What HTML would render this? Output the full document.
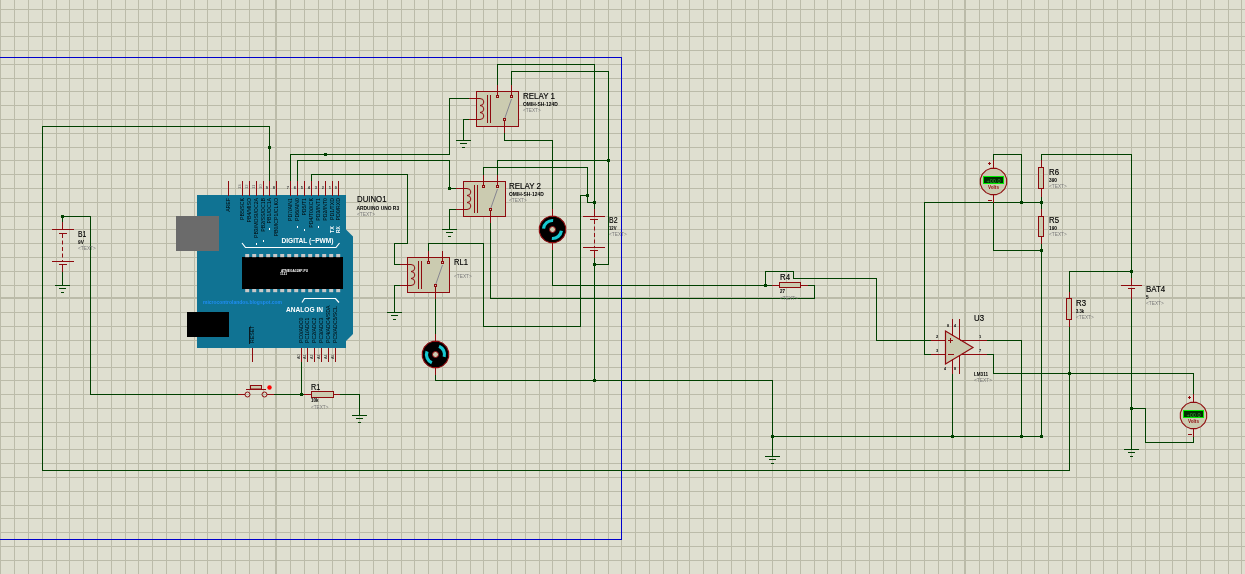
<!DOCTYPE html>
<html><head><meta charset="utf-8"><style>
html,body{margin:0;padding:0;background:#dfdfd0;}
svg{display:block;font-family:"Liberation Sans",sans-serif;will-change:transform;}
</style></head><body>
<svg width="1245" height="574" viewBox="0 0 1245 574">
<rect width="1245" height="574" fill="#dfdfd0"/>
<g fill="#bbbba9"><rect x="0" y="0" width="1" height="574"/><rect x="14" y="0" width="1" height="574"/><rect x="28" y="0" width="1" height="574"/><rect x="42" y="0" width="1" height="574"/><rect x="56" y="0" width="1" height="574"/><rect x="69" y="0" width="1" height="574"/><rect x="83" y="0" width="1" height="574"/><rect x="97" y="0" width="1" height="574"/><rect x="111" y="0" width="1" height="574"/><rect x="125" y="0" width="1" height="574"/><rect x="138" y="0" width="1" height="574"/><rect x="152" y="0" width="1" height="574"/><rect x="166" y="0" width="1" height="574"/><rect x="180" y="0" width="1" height="574"/><rect x="194" y="0" width="1" height="574"/><rect x="207" y="0" width="1" height="574"/><rect x="221" y="0" width="1" height="574"/><rect x="235" y="0" width="1" height="574"/><rect x="249" y="0" width="1" height="574"/><rect x="263" y="0" width="1" height="574"/><rect x="275" y="0" width="2" height="574"/><rect x="290" y="0" width="1" height="574"/><rect x="304" y="0" width="1" height="574"/><rect x="318" y="0" width="1" height="574"/><rect x="332" y="0" width="1" height="574"/><rect x="345" y="0" width="1" height="574"/><rect x="359" y="0" width="1" height="574"/><rect x="373" y="0" width="1" height="574"/><rect x="387" y="0" width="1" height="574"/><rect x="401" y="0" width="1" height="574"/><rect x="414" y="0" width="1" height="574"/><rect x="428" y="0" width="1" height="574"/><rect x="442" y="0" width="1" height="574"/><rect x="456" y="0" width="1" height="574"/><rect x="470" y="0" width="1" height="574"/><rect x="483" y="0" width="1" height="574"/><rect x="497" y="0" width="1" height="574"/><rect x="511" y="0" width="1" height="574"/><rect x="525" y="0" width="1" height="574"/><rect x="539" y="0" width="1" height="574"/><rect x="552" y="0" width="1" height="574"/><rect x="566" y="0" width="1" height="574"/><rect x="580" y="0" width="1" height="574"/><rect x="594" y="0" width="1" height="574"/><rect x="608" y="0" width="1" height="574"/><rect x="621" y="0" width="1" height="574"/><rect x="635" y="0" width="1" height="574"/><rect x="649" y="0" width="1" height="574"/><rect x="663" y="0" width="1" height="574"/><rect x="677" y="0" width="1" height="574"/><rect x="689" y="0" width="1" height="574"/><rect x="703" y="0" width="1" height="574"/><rect x="717" y="0" width="1" height="574"/><rect x="731" y="0" width="1" height="574"/><rect x="745" y="0" width="1" height="574"/><rect x="758" y="0" width="1" height="574"/><rect x="772" y="0" width="1" height="574"/><rect x="786" y="0" width="1" height="574"/><rect x="800" y="0" width="1" height="574"/><rect x="814" y="0" width="1" height="574"/><rect x="827" y="0" width="1" height="574"/><rect x="841" y="0" width="1" height="574"/><rect x="855" y="0" width="1" height="574"/><rect x="869" y="0" width="1" height="574"/><rect x="883" y="0" width="1" height="574"/><rect x="896" y="0" width="1" height="574"/><rect x="910" y="0" width="1" height="574"/><rect x="924" y="0" width="1" height="574"/><rect x="938" y="0" width="1" height="574"/><rect x="952" y="0" width="1" height="574"/><rect x="964" y="0" width="2" height="574"/><rect x="979" y="0" width="1" height="574"/><rect x="993" y="0" width="1" height="574"/><rect x="1007" y="0" width="1" height="574"/><rect x="1021" y="0" width="1" height="574"/><rect x="1034" y="0" width="1" height="574"/><rect x="1048" y="0" width="1" height="574"/><rect x="1062" y="0" width="1" height="574"/><rect x="1076" y="0" width="1" height="574"/><rect x="1090" y="0" width="1" height="574"/><rect x="1103" y="0" width="1" height="574"/><rect x="1117" y="0" width="1" height="574"/><rect x="1131" y="0" width="1" height="574"/><rect x="1145" y="0" width="1" height="574"/><rect x="1159" y="0" width="1" height="574"/><rect x="1172" y="0" width="1" height="574"/><rect x="1186" y="0" width="1" height="574"/><rect x="1200" y="0" width="1" height="574"/><rect x="1214" y="0" width="1" height="574"/><rect x="1228" y="0" width="1" height="574"/><rect x="1241" y="0" width="1" height="574"/><rect x="0" y="9" width="1245" height="1"/><rect x="0" y="22" width="1245" height="1"/><rect x="0" y="36" width="1245" height="1"/><rect x="0" y="50" width="1245" height="1"/><rect x="0" y="64" width="1245" height="1"/><rect x="0" y="78" width="1245" height="1"/><rect x="0" y="91" width="1245" height="1"/><rect x="0" y="105" width="1245" height="1"/><rect x="0" y="119" width="1245" height="1"/><rect x="0" y="133" width="1245" height="1"/><rect x="0" y="147" width="1245" height="1"/><rect x="0" y="160" width="1245" height="1"/><rect x="0" y="174" width="1245" height="1"/><rect x="0" y="188" width="1245" height="1"/><rect x="0" y="202" width="1245" height="1"/><rect x="0" y="216" width="1245" height="1"/><rect x="0" y="229" width="1245" height="1"/><rect x="0" y="243" width="1245" height="1"/><rect x="0" y="257" width="1245" height="1"/><rect x="0" y="271" width="1245" height="1"/><rect x="0" y="285" width="1245" height="1"/><rect x="0" y="297" width="1245" height="2"/><rect x="0" y="312" width="1245" height="1"/><rect x="0" y="326" width="1245" height="1"/><rect x="0" y="340" width="1245" height="1"/><rect x="0" y="354" width="1245" height="1"/><rect x="0" y="367" width="1245" height="1"/><rect x="0" y="380" width="1245" height="1"/><rect x="0" y="394" width="1245" height="1"/><rect x="0" y="408" width="1245" height="1"/><rect x="0" y="422" width="1245" height="1"/><rect x="0" y="436" width="1245" height="1"/><rect x="0" y="449" width="1245" height="1"/><rect x="0" y="463" width="1245" height="1"/><rect x="0" y="477" width="1245" height="1"/><rect x="0" y="491" width="1245" height="1"/><rect x="0" y="505" width="1245" height="1"/><rect x="0" y="518" width="1245" height="1"/><rect x="0" y="532" width="1245" height="1"/><rect x="0" y="546" width="1245" height="1"/><rect x="0" y="560" width="1245" height="1"/></g><g fill="#0000cc"><rect x="0" y="57" width="622" height="1"/><rect x="621" y="57" width="1" height="483"/><rect x="0" y="539" width="622" height="1"/></g><g fill="#004000"><rect x="42" y="126" width="228" height="1"/><rect x="269" y="126" width="1" height="56"/><rect x="42" y="126" width="1" height="345"/><rect x="42" y="470" width="1028" height="1"/><rect x="1069" y="326" width="1" height="145"/><rect x="62" y="216" width="1" height="7"/><rect x="62" y="216" width="29" height="1"/><rect x="90" y="216" width="1" height="179"/><rect x="90" y="394" width="149" height="1"/><rect x="62" y="271" width="1" height="15"/><rect x="274" y="394" width="31" height="1"/><rect x="339" y="394" width="21" height="1"/><rect x="359" y="394" width="1" height="22"/><rect x="301" y="361" width="1" height="34"/><rect x="290" y="154" width="1" height="28"/><rect x="290" y="154" width="160" height="1"/><rect x="449" y="98" width="1" height="57"/><rect x="449" y="98" width="22" height="1"/><rect x="297" y="160" width="1" height="22"/><rect x="297" y="160" width="153" height="1"/><rect x="449" y="160" width="1" height="29"/><rect x="449" y="188" width="7" height="1"/><rect x="463" y="119" width="8" height="1"/><rect x="463" y="119" width="1" height="22"/><rect x="449" y="209" width="7" height="1"/><rect x="449" y="209" width="1" height="21"/><rect x="394" y="264" width="8" height="1"/><rect x="394" y="243" width="1" height="22"/><rect x="394" y="243" width="14" height="1"/><rect x="407" y="174" width="1" height="70"/><rect x="311" y="174" width="97" height="1"/><rect x="311" y="174" width="1" height="8"/><rect x="394" y="285" width="8" height="1"/><rect x="394" y="285" width="1" height="28"/><rect x="497" y="64" width="1" height="22"/><rect x="497" y="64" width="98" height="1"/><rect x="594" y="64" width="1" height="146"/><rect x="511" y="71" width="1" height="15"/><rect x="511" y="71" width="98" height="1"/><rect x="608" y="71" width="1" height="194"/><rect x="594" y="264" width="15" height="1"/><rect x="504" y="133" width="1" height="8"/><rect x="504" y="140" width="49" height="1"/><rect x="552" y="140" width="1" height="70"/><rect x="483" y="167" width="1" height="8"/><rect x="483" y="167" width="105" height="1"/><rect x="587" y="167" width="1" height="36"/><rect x="587" y="202" width="8" height="1"/><rect x="428" y="243" width="1" height="8"/><rect x="428" y="243" width="56" height="1"/><rect x="483" y="243" width="1" height="84"/><rect x="483" y="326" width="98" height="1"/><rect x="580" y="195" width="1" height="132"/><rect x="580" y="195" width="8" height="1"/><rect x="497" y="160" width="1" height="15"/><rect x="497" y="160" width="112" height="1"/><rect x="490" y="223" width="1" height="76"/><rect x="490" y="298" width="325" height="1"/><rect x="814" y="285" width="1" height="14"/><rect x="807" y="285" width="8" height="1"/><rect x="435" y="298" width="1" height="36"/><rect x="435" y="368" width="1" height="13"/><rect x="435" y="380" width="338" height="1"/><rect x="772" y="380" width="1" height="77"/><rect x="594" y="258" width="1" height="123"/><rect x="772" y="436" width="270" height="1"/><rect x="552" y="250" width="1" height="36"/><rect x="552" y="285" width="221" height="1"/><rect x="765" y="271" width="1" height="15"/><rect x="765" y="271" width="29" height="1"/><rect x="793" y="271" width="1" height="8"/><rect x="793" y="278" width="84" height="1"/><rect x="876" y="278" width="1" height="63"/><rect x="876" y="340" width="56" height="1"/><rect x="924" y="202" width="1" height="153"/><rect x="924" y="354" width="8" height="1"/><rect x="986" y="340" width="36" height="1"/><rect x="1021" y="340" width="1" height="97"/><rect x="986" y="354" width="8" height="1"/><rect x="993" y="354" width="1" height="20"/><rect x="993" y="373" width="201" height="1"/><rect x="1193" y="373" width="1" height="22"/><rect x="952" y="373" width="1" height="64"/><rect x="993" y="154" width="1" height="7"/><rect x="993" y="154" width="29" height="1"/><rect x="1021" y="154" width="1" height="49"/><rect x="993" y="203" width="1" height="48"/><rect x="993" y="250" width="49" height="1"/><rect x="924" y="202" width="118" height="1"/><rect x="1041" y="154" width="1" height="7"/><rect x="1041" y="196" width="1" height="14"/><rect x="1041" y="243" width="1" height="194"/><rect x="1041" y="154" width="91" height="1"/><rect x="1131" y="154" width="1" height="124"/><rect x="1069" y="271" width="63" height="1"/><rect x="1069" y="271" width="1" height="22"/><rect x="1131" y="298" width="1" height="152"/><rect x="1131" y="408" width="15" height="1"/><rect x="1145" y="408" width="1" height="35"/><rect x="1145" y="442" width="49" height="1"/><rect x="1193" y="437" width="1" height="6"/></g><g fill="#004000"><rect x="268" y="146" width="3" height="3"/><rect x="61" y="215" width="3" height="3"/><rect x="300" y="393" width="3" height="3"/><rect x="324" y="153" width="3" height="3"/><rect x="448" y="187" width="3" height="3"/><rect x="593" y="201" width="3" height="3"/><rect x="586" y="194" width="3" height="3"/><rect x="607" y="159" width="3" height="3"/><rect x="593" y="263" width="3" height="3"/><rect x="593" y="379" width="3" height="3"/><rect x="771" y="435" width="3" height="3"/><rect x="951" y="435" width="3" height="3"/><rect x="1020" y="435" width="3" height="3"/><rect x="1040" y="435" width="3" height="3"/><rect x="764" y="284" width="3" height="3"/><rect x="1020" y="201" width="3" height="3"/><rect x="1040" y="201" width="3" height="3"/><rect x="1040" y="249" width="3" height="3"/><rect x="1068" y="372" width="3" height="3"/><rect x="1130" y="270" width="3" height="3"/><rect x="1130" y="407" width="3" height="3"/></g><rect x="62" y="222" width="1" height="7" fill="#8e0a0e"/><rect x="52" y="229" width="22" height="1" fill="#8e0a0e"/><rect x="59" y="233" width="8" height="1" fill="#8e0a0e"/><line x1="62.5" y1="234" x2="62.5" y2="261" stroke="#8e0a0e" stroke-width="1" stroke-dasharray="4,2.5"/><rect x="52" y="261" width="22" height="1" fill="#8e0a0e"/><rect x="59" y="264" width="8" height="1" fill="#8e0a0e"/><rect x="62" y="265" width="1" height="7" fill="#8e0a0e"/><rect x="55" y="285" width="15" height="1" fill="#004000"/><rect x="59" y="288" width="7" height="1" fill="#004000"/><rect x="61" y="292" width="3" height="1" fill="#004000"/><text x="78" y="237" font-size="8.4" fill="#000" stroke="#000" stroke-width="0.15" textLength="8.3" lengthAdjust="spacingAndGlyphs">B1</text><text x="78" y="244" font-size="5.2" font-weight="bold" fill="#000" textLength="5.8" lengthAdjust="spacingAndGlyphs">9V</text><text x="78" y="250.4" font-size="4.7" fill="#7a7a7a" textLength="17.8" lengthAdjust="spacingAndGlyphs">&lt;TEXT&gt;</text><rect x="594" y="209" width="1" height="7" fill="#8e0a0e"/><rect x="583" y="216" width="22" height="1" fill="#8e0a0e"/><rect x="590" y="219" width="8" height="1" fill="#8e0a0e"/><line x1="594.5" y1="220" x2="594.5" y2="247" stroke="#8e0a0e" stroke-width="1" stroke-dasharray="4,2.5"/><rect x="583" y="247" width="22" height="1" fill="#8e0a0e"/><rect x="590" y="250" width="8" height="1" fill="#8e0a0e"/><rect x="594" y="251" width="1" height="7" fill="#8e0a0e"/><text x="609" y="223" font-size="8.4" fill="#000" stroke="#000" stroke-width="0.15" textLength="8.5" lengthAdjust="spacingAndGlyphs">B2</text><text x="609" y="230" font-size="5.2" font-weight="bold" fill="#000" textLength="7.5" lengthAdjust="spacingAndGlyphs">12V</text><text x="609" y="236.4" font-size="4.7" fill="#7a7a7a" textLength="17.8" lengthAdjust="spacingAndGlyphs">&lt;TEXT&gt;</text><rect x="238" y="394" width="7" height="1" fill="#8e0a0e"/><rect x="267" y="394" width="7" height="1" fill="#8e0a0e"/><circle cx="247.5" cy="394.5" r="2.5" fill="none" stroke="#8e0a0e"/><circle cx="264.5" cy="394.5" r="2.5" fill="none" stroke="#8e0a0e"/><rect x="246" y="389" width="20" height="1" fill="#8e0a0e"/><rect x="250.5" y="385.5" width="11" height="3.5" fill="#cbcbb0" stroke="#8e0a0e"/><circle cx="269.5" cy="387.5" r="2.2" fill="#ff0000"/><rect x="304" y="394" width="7" height="1" fill="#8e0a0e"/><rect x="334" y="394" width="6" height="1" fill="#8e0a0e"/><rect x="311.5" y="391.5" width="22" height="6" fill="#cbcbb0" stroke="#8e0a0e"/><rect x="352" y="415" width="15" height="1" fill="#004000"/><rect x="356" y="418" width="7" height="1" fill="#004000"/><rect x="358" y="422" width="3" height="1" fill="#004000"/><text x="311" y="390" font-size="8.4" fill="#000" stroke="#000" stroke-width="0.15" textLength="9.2" lengthAdjust="spacingAndGlyphs">R1</text><text x="311" y="402" font-size="5.2" font-weight="bold" fill="#000" textLength="7.5" lengthAdjust="spacingAndGlyphs">10k</text><text x="311" y="408.5" font-size="4.7" fill="#7a7a7a" textLength="17.5" lengthAdjust="spacingAndGlyphs">&lt;TEXT&gt;</text><rect x="456" y="140" width="15" height="1" fill="#004000"/><rect x="460" y="143" width="7" height="1" fill="#004000"/><rect x="462" y="147" width="3" height="1" fill="#004000"/><rect x="442" y="229" width="15" height="1" fill="#004000"/><rect x="446" y="232" width="7" height="1" fill="#004000"/><rect x="448" y="236" width="3" height="1" fill="#004000"/><rect x="387" y="312" width="15" height="1" fill="#004000"/><rect x="391" y="315" width="7" height="1" fill="#004000"/><rect x="393" y="319" width="3" height="1" fill="#004000"/><rect x="765" y="456" width="15" height="1" fill="#004000"/><rect x="769" y="459" width="7" height="1" fill="#004000"/><rect x="771" y="463" width="3" height="1" fill="#004000"/><rect x="1124" y="449" width="15" height="1" fill="#004000"/><rect x="1128" y="452" width="7" height="1" fill="#004000"/><rect x="1130" y="456" width="3" height="1" fill="#004000"/><rect x="476.5" y="91.5" width="42" height="35" fill="#cbcbb0" stroke="#8e0a0e" stroke-width="1" shape-rendering="crispEdges"/><rect x="469" y="98" width="8" height="1" fill="#8e0a0e"/><rect x="469" y="119" width="8" height="1" fill="#8e0a0e"/><path d="M476.5,98.5 H480 a3.8,3.5 0 0 1 0,7 a3.8,3.5 0 0 1 0,7 a3.8,3.5 0 0 1 0,7 H476.5" fill="none" stroke="#8e0a0e" stroke-width="1"/><rect x="487" y="95" width="1" height="28" fill="#8e0a0e"/><rect x="490" y="95" width="1" height="28" fill="#8e0a0e"/><line x1="504.5" y1="119" x2="511.5" y2="99" stroke="#858590" stroke-width="1"/><rect x="496.5" y="95.5" width="2" height="2" fill="#cbcbb0" stroke="#8e0a0e" stroke-width="1" shape-rendering="crispEdges"/><rect x="510.5" y="95.5" width="2" height="2" fill="#cbcbb0" stroke="#8e0a0e" stroke-width="1" shape-rendering="crispEdges"/><rect x="503.5" y="118.5" width="2" height="2" fill="#cbcbb0" stroke="#8e0a0e" stroke-width="1" shape-rendering="crispEdges"/><rect x="497" y="85" width="1" height="10" fill="#8e0a0e"/><rect x="511" y="85" width="1" height="10" fill="#8e0a0e"/><rect x="504" y="121" width="1" height="12" fill="#8e0a0e"/><text x="523" y="99" font-size="8.4" fill="#000" stroke="#000" stroke-width="0.15" textLength="32" lengthAdjust="spacingAndGlyphs">RELAY 1</text><text x="523" y="105.8" font-size="5.2" font-weight="bold" fill="#000" textLength="34.7" lengthAdjust="spacingAndGlyphs">OMIH-SH-124D</text><text x="523" y="112.4" font-size="4.7" fill="#7a7a7a" textLength="17.8" lengthAdjust="spacingAndGlyphs">&lt;TEXT&gt;</text><rect x="463.5" y="181.5" width="42" height="35" fill="#cbcbb0" stroke="#8e0a0e" stroke-width="1" shape-rendering="crispEdges"/><rect x="456" y="188" width="8" height="1" fill="#8e0a0e"/><rect x="456" y="209" width="8" height="1" fill="#8e0a0e"/><path d="M463.5,188.5 H467 a3.8,3.5 0 0 1 0,7 a3.8,3.5 0 0 1 0,7 a3.8,3.5 0 0 1 0,7 H463.5" fill="none" stroke="#8e0a0e" stroke-width="1"/><rect x="474" y="185" width="1" height="28" fill="#8e0a0e"/><rect x="477" y="185" width="1" height="28" fill="#8e0a0e"/><line x1="490.5" y1="209" x2="497.5" y2="189" stroke="#858590" stroke-width="1"/><rect x="482.5" y="185.5" width="2" height="2" fill="#cbcbb0" stroke="#8e0a0e" stroke-width="1" shape-rendering="crispEdges"/><rect x="496.5" y="185.5" width="2" height="2" fill="#cbcbb0" stroke="#8e0a0e" stroke-width="1" shape-rendering="crispEdges"/><rect x="489.5" y="208.5" width="2" height="2" fill="#cbcbb0" stroke="#8e0a0e" stroke-width="1" shape-rendering="crispEdges"/><rect x="483" y="175" width="1" height="10" fill="#8e0a0e"/><rect x="497" y="175" width="1" height="10" fill="#8e0a0e"/><rect x="490" y="211" width="1" height="12" fill="#8e0a0e"/><text x="509" y="189" font-size="8.4" fill="#000" stroke="#000" stroke-width="0.15" textLength="32" lengthAdjust="spacingAndGlyphs">RELAY 2</text><text x="509" y="195.8" font-size="5.2" font-weight="bold" fill="#000" textLength="34.7" lengthAdjust="spacingAndGlyphs">OMIH-SH-124D</text><text x="509" y="202.4" font-size="4.7" fill="#7a7a7a" textLength="17.8" lengthAdjust="spacingAndGlyphs">&lt;TEXT&gt;</text><rect x="407.5" y="257.5" width="42" height="35" fill="#cbcbb0" stroke="#8e0a0e" stroke-width="1" shape-rendering="crispEdges"/><rect x="400" y="264" width="8" height="1" fill="#8e0a0e"/><rect x="400" y="285" width="8" height="1" fill="#8e0a0e"/><path d="M407.5,264.5 H411 a3.8,3.5 0 0 1 0,7 a3.8,3.5 0 0 1 0,7 a3.8,3.5 0 0 1 0,7 H407.5" fill="none" stroke="#8e0a0e" stroke-width="1"/><rect x="418" y="261" width="1" height="28" fill="#8e0a0e"/><rect x="421" y="261" width="1" height="28" fill="#8e0a0e"/><line x1="435.5" y1="285" x2="442.5" y2="265" stroke="#858590" stroke-width="1"/><rect x="427.5" y="261.5" width="2" height="2" fill="#cbcbb0" stroke="#8e0a0e" stroke-width="1" shape-rendering="crispEdges"/><rect x="441.5" y="261.5" width="2" height="2" fill="#cbcbb0" stroke="#8e0a0e" stroke-width="1" shape-rendering="crispEdges"/><rect x="434.5" y="284.5" width="2" height="2" fill="#cbcbb0" stroke="#8e0a0e" stroke-width="1" shape-rendering="crispEdges"/><rect x="428" y="251" width="1" height="10" fill="#8e0a0e"/><rect x="442" y="251" width="1" height="10" fill="#8e0a0e"/><rect x="435" y="287" width="1" height="12" fill="#8e0a0e"/><text x="454" y="265" font-size="8.4" fill="#000" stroke="#000" stroke-width="0.15" textLength="14" lengthAdjust="spacingAndGlyphs">RL1</text><text x="454" y="278.4" font-size="4.7" fill="#7a7a7a" textLength="17.8" lengthAdjust="spacingAndGlyphs">&lt;TEXT&gt;</text><polygon points="565.64,232.11 563.64,236.94 559.94,240.64 555.11,242.64 549.89,242.64 545.06,240.64 541.36,236.94 539.36,232.11 539.36,226.89 541.36,222.06 545.06,218.36 549.89,216.36 555.11,216.36 559.94,218.36 563.64,222.06 565.64,226.89" fill="#000" stroke="#8e0a0e" stroke-width="1.1"/><path d="M553.13,220.52 A9,9 0 0 0 543.53,228.72" fill="none" stroke="#18c8d0" stroke-width="3.2"/><path d="M551.87,238.48 A9,9 0 0 0 561.41,230.75" fill="none" stroke="#18c8d0" stroke-width="3.2"/><circle cx="552.5" cy="229.5" r="3" fill="#cbcbb0" stroke="#8e0a0e" stroke-width="1"/><rect x="552" y="209" width="1" height="7" fill="#8e0a0e"/><rect x="552" y="243" width="1" height="7" fill="#8e0a0e"/><polygon points="448.64,357.11 446.64,361.94 442.94,365.64 438.11,367.64 432.89,367.64 428.06,365.64 424.36,361.94 422.36,357.11 422.36,351.89 424.36,347.06 428.06,343.36 432.89,341.36 438.11,341.36 442.94,343.36 446.64,347.06 448.64,351.89" fill="#000" stroke="#8e0a0e" stroke-width="1.1"/><path d="M427.04,351.42 A9,9 0 0 0 431.84,362.72" fill="none" stroke="#18c8d0" stroke-width="3.2"/><path d="M444.19,356.83 A9,9 0 0 0 439.02,346.22" fill="none" stroke="#18c8d0" stroke-width="3.2"/><circle cx="435.5" cy="354.5" r="3" fill="#cbcbb0" stroke="#8e0a0e" stroke-width="1"/><rect x="435" y="334" width="1" height="7" fill="#8e0a0e"/><rect x="435" y="368" width="1" height="7" fill="#8e0a0e"/><polygon points="1006.64,184.11 1004.64,188.94 1000.94,192.64 996.11,194.64 990.89,194.64 986.06,192.64 982.36,188.94 980.36,184.11 980.36,178.89 982.36,174.06 986.06,170.36 990.89,168.36 996.11,168.36 1000.94,170.36 1004.64,174.06 1006.64,178.89" fill="#cbcbb0" stroke="#8e0a0e" stroke-width="1.1"/><rect x="983" y="176" width="21" height="8" fill="#00ee00"/><rect x="984" y="177" width="19" height="6" fill="#003000"/><text x="986.5" y="182.5" font-size="4.6" fill="#3c9a3c" textLength="14" lengthAdjust="spacingAndGlyphs">+00.0</text><text x="988" y="189.2" font-size="5" font-weight="bold" fill="#8e0a0e" textLength="11" lengthAdjust="spacingAndGlyphs">Volts</text><rect x="993" y="160" width="1" height="9" fill="#8e0a0e"/><rect x="993" y="194" width="1" height="9" fill="#8e0a0e"/><rect x="988" y="163" width="3" height="1" fill="#8e0a0e"/><rect x="989" y="162" width="1" height="3" fill="#8e0a0e"/><rect x="988" y="200" width="4" height="1" fill="#8e0a0e"/><polygon points="1206.64,418.11 1204.64,422.94 1200.94,426.64 1196.11,428.64 1190.89,428.64 1186.06,426.64 1182.36,422.94 1180.36,418.11 1180.36,412.89 1182.36,408.06 1186.06,404.36 1190.89,402.36 1196.11,402.36 1200.94,404.36 1204.64,408.06 1206.64,412.89" fill="#cbcbb0" stroke="#8e0a0e" stroke-width="1.1"/><rect x="1183" y="410" width="21" height="8" fill="#00ee00"/><rect x="1184" y="411" width="19" height="6" fill="#003000"/><text x="1186.5" y="416.5" font-size="4.6" fill="#3c9a3c" textLength="14" lengthAdjust="spacingAndGlyphs">+00.0</text><text x="1188" y="423.2" font-size="5" font-weight="bold" fill="#8e0a0e" textLength="11" lengthAdjust="spacingAndGlyphs">Volts</text><rect x="1193" y="394" width="1" height="9" fill="#8e0a0e"/><rect x="1193" y="428" width="1" height="9" fill="#8e0a0e"/><rect x="1188" y="397" width="3" height="1" fill="#8e0a0e"/><rect x="1189" y="396" width="1" height="3" fill="#8e0a0e"/><rect x="1188" y="434" width="4" height="1" fill="#8e0a0e"/><rect x="772" y="285" width="7" height="1" fill="#8e0a0e"/><rect x="801" y="285" width="7" height="1" fill="#8e0a0e"/><rect x="779.5" y="282.5" width="21" height="5" fill="#cbcbb0" stroke="#8e0a0e"/><text x="780" y="280" font-size="8.4" fill="#000" stroke="#000" stroke-width="0.15" textLength="10" lengthAdjust="spacingAndGlyphs">R4</text><text x="780" y="293" font-size="5.2" font-weight="bold" fill="#000" textLength="5" lengthAdjust="spacingAndGlyphs">27</text><text x="780" y="299.5" font-size="4.7" fill="#7a7a7a" textLength="17.8" lengthAdjust="spacingAndGlyphs">&lt;TEXT&gt;</text><rect x="1041" y="160" width="1" height="7" fill="#8e0a0e"/><rect x="1041" y="189" width="1" height="8" fill="#8e0a0e"/><rect x="1038.5" y="167.5" width="5" height="21" fill="#cbcbb0" stroke="#8e0a0e"/><text x="1049" y="175" font-size="8.4" fill="#000" stroke="#000" stroke-width="0.15" textLength="10" lengthAdjust="spacingAndGlyphs">R6</text><text x="1049" y="182" font-size="5.2" font-weight="bold" fill="#000" textLength="8" lengthAdjust="spacingAndGlyphs">390</text><text x="1049" y="188.4" font-size="4.7" fill="#7a7a7a" textLength="17.8" lengthAdjust="spacingAndGlyphs">&lt;TEXT&gt;</text><rect x="1041" y="209" width="1" height="7" fill="#8e0a0e"/><rect x="1041" y="237" width="1" height="7" fill="#8e0a0e"/><rect x="1038.5" y="216.5" width="5" height="20" fill="#cbcbb0" stroke="#8e0a0e"/><text x="1049" y="223" font-size="8.4" fill="#000" stroke="#000" stroke-width="0.15" textLength="10" lengthAdjust="spacingAndGlyphs">R5</text><text x="1049" y="230" font-size="5.2" font-weight="bold" fill="#000" textLength="8" lengthAdjust="spacingAndGlyphs">190</text><text x="1049" y="236.4" font-size="4.7" fill="#7a7a7a" textLength="17.8" lengthAdjust="spacingAndGlyphs">&lt;TEXT&gt;</text><rect x="1069" y="292" width="1" height="6" fill="#8e0a0e"/><rect x="1069" y="320" width="1" height="7" fill="#8e0a0e"/><rect x="1066.5" y="298.5" width="5" height="21" fill="#cbcbb0" stroke="#8e0a0e"/><text x="1076" y="306" font-size="8.4" fill="#000" stroke="#000" stroke-width="0.15" textLength="10" lengthAdjust="spacingAndGlyphs">R3</text><text x="1076" y="313" font-size="5.2" font-weight="bold" fill="#000" textLength="8" lengthAdjust="spacingAndGlyphs">3.3k</text><text x="1076" y="319.4" font-size="4.7" fill="#7a7a7a" textLength="17.8" lengthAdjust="spacingAndGlyphs">&lt;TEXT&gt;</text><rect x="1131" y="278" width="1" height="7" fill="#8e0a0e"/><rect x="1121" y="285" width="21" height="1" fill="#8e0a0e"/><rect x="1128" y="288" width="7" height="1" fill="#8e0a0e"/><rect x="1131" y="289" width="1" height="10" fill="#8e0a0e"/><text x="1146" y="291.8" font-size="8.4" fill="#000" stroke="#000" stroke-width="0.15" textLength="19.2" lengthAdjust="spacingAndGlyphs">BAT4</text><text x="1146" y="298.8" font-size="5.2" font-weight="bold" fill="#000" textLength="2.6" lengthAdjust="spacingAndGlyphs">5</text><text x="1146" y="305.2" font-size="4.7" fill="#7a7a7a" textLength="17.8" lengthAdjust="spacingAndGlyphs">&lt;TEXT&gt;</text><path d="M945.5,331 L945.5,364 L973,347.5 Z" fill="#cbcbb0" stroke="#8e0a0e" stroke-width="1.2"/><rect x="931" y="340" width="15" height="1" fill="#8e0a0e"/><rect x="931" y="354" width="15" height="1" fill="#8e0a0e"/><rect x="960" y="340" width="27" height="1" fill="#8e0a0e"/><rect x="962" y="354" width="25" height="1" fill="#8e0a0e"/><rect x="952" y="319" width="1" height="17" fill="#8e0a0e"/><rect x="959" y="319" width="1" height="21" fill="#8e0a0e"/><rect x="952" y="359" width="1" height="15" fill="#8e0a0e"/><rect x="959" y="355" width="1" height="19" fill="#8e0a0e"/><rect x="948" y="340" width="5" height="1" fill="#8e0a0e"/><rect x="950" y="338" width="1" height="5" fill="#8e0a0e"/><rect x="948" y="354" width="6" height="1" fill="#8e0a0e"/><text x="974" y="321" font-size="8.4" fill="#000" stroke="#000" stroke-width="0.15" textLength="10" lengthAdjust="spacingAndGlyphs">U3</text><text x="936" y="338" font-size="4" fill="#000" font-weight="bold" >2</text><text x="936" y="352" font-size="4" fill="#000" font-weight="bold" >3</text><text x="979" y="338" font-size="4" fill="#000" font-weight="bold" >1</text><text x="979" y="352" font-size="4" fill="#000" font-weight="bold" >7</text><text x="947" y="327" font-size="3.6" fill="#000" font-weight="bold" >8</text><text x="954" y="327" font-size="3.6" fill="#000" font-weight="bold" >4</text><text x="944" y="370" font-size="3.6" fill="#000" font-weight="bold" >4</text><text x="954" y="370" font-size="3.6" fill="#000" font-weight="bold" >8</text><text x="974" y="375.7" font-size="5.2" font-weight="bold" fill="#000" textLength="14" lengthAdjust="spacingAndGlyphs">LM311</text><text x="974" y="382" font-size="4.7" fill="#7a7a7a" textLength="18" lengthAdjust="spacingAndGlyphs">&lt;TEXT&gt;</text><text x="357" y="202" font-size="8.4" fill="#000" stroke="#000" stroke-width="0.15" textLength="29.5" lengthAdjust="spacingAndGlyphs">DUINO1</text><text x="356.5" y="210" font-size="5.2" font-weight="bold" fill="#000" textLength="42.6" lengthAdjust="spacingAndGlyphs">ARDUINO UNO R3</text><text x="357" y="216.2" font-size="4.7" fill="#7a7a7a" textLength="18" lengthAdjust="spacingAndGlyphs">&lt;TEXT&gt;</text><path d="M197,195 L346,195 L346,229.5 L353,236.5 L353,334 L346,341 L346,348 L197,348 Z" fill="#107393"/><rect x="176" y="216" width="43" height="35" fill="#6b6b6b"/><rect x="187" y="312" width="42" height="25" fill="#000"/><rect x="242" y="257" width="101" height="32" fill="#000"/><rect x="245.20" y="254" width="4" height="3.2" fill="#c8c8c8"/><rect x="245.20" y="289" width="4" height="3.2" fill="#c8c8c8"/><rect x="252.20" y="254" width="4" height="3.2" fill="#c8c8c8"/><rect x="252.20" y="289" width="4" height="3.2" fill="#c8c8c8"/><rect x="259.20" y="254" width="4" height="3.2" fill="#c8c8c8"/><rect x="259.20" y="289" width="4" height="3.2" fill="#c8c8c8"/><rect x="266.20" y="254" width="4" height="3.2" fill="#c8c8c8"/><rect x="266.20" y="289" width="4" height="3.2" fill="#c8c8c8"/><rect x="273.20" y="254" width="4" height="3.2" fill="#c8c8c8"/><rect x="273.20" y="289" width="4" height="3.2" fill="#c8c8c8"/><rect x="280.20" y="254" width="4" height="3.2" fill="#c8c8c8"/><rect x="280.20" y="289" width="4" height="3.2" fill="#c8c8c8"/><rect x="287.20" y="254" width="4" height="3.2" fill="#c8c8c8"/><rect x="287.20" y="289" width="4" height="3.2" fill="#c8c8c8"/><rect x="294.20" y="254" width="4" height="3.2" fill="#c8c8c8"/><rect x="294.20" y="289" width="4" height="3.2" fill="#c8c8c8"/><rect x="301.20" y="254" width="4" height="3.2" fill="#c8c8c8"/><rect x="301.20" y="289" width="4" height="3.2" fill="#c8c8c8"/><rect x="308.20" y="254" width="4" height="3.2" fill="#c8c8c8"/><rect x="308.20" y="289" width="4" height="3.2" fill="#c8c8c8"/><rect x="315.20" y="254" width="4" height="3.2" fill="#c8c8c8"/><rect x="315.20" y="289" width="4" height="3.2" fill="#c8c8c8"/><rect x="322.20" y="254" width="4" height="3.2" fill="#c8c8c8"/><rect x="322.20" y="289" width="4" height="3.2" fill="#c8c8c8"/><rect x="329.20" y="254" width="4" height="3.2" fill="#c8c8c8"/><rect x="329.20" y="289" width="4" height="3.2" fill="#c8c8c8"/><rect x="336.20" y="254" width="4" height="3.2" fill="#c8c8c8"/><rect x="336.20" y="289" width="4" height="3.2" fill="#c8c8c8"/><text x="281" y="272.3" font-size="3" font-weight="bold" fill="#fff" textLength="27" lengthAdjust="spacingAndGlyphs">ATMEGA328P-PU</text><text x="280" y="275.3" font-size="3" font-weight="bold" fill="#fff" textLength="7" lengthAdjust="spacingAndGlyphs">1121</text><rect x="228" y="181" width="1" height="15" fill="#8e0a0e"/><text transform="translate(230.3,198) rotate(-90)" text-anchor="end" font-size="5.2" fill="#000">AREF</text><rect x="242" y="181" width="1" height="15" fill="#8e0a0e"/><text transform="translate(244.3,198) rotate(-90)" text-anchor="end" font-size="5.2" fill="#000">PB5/SCK</text><text transform="translate(240.8,189) rotate(-90)" font-size="4.2" fill="#707070">13</text><rect x="249" y="181" width="1" height="15" fill="#8e0a0e"/><text transform="translate(251.3,198) rotate(-90)" text-anchor="end" font-size="5.2" fill="#000">PB4/MISO</text><text transform="translate(247.8,189) rotate(-90)" font-size="4.2" fill="#707070">12</text><rect x="256" y="181" width="1" height="15" fill="#8e0a0e"/><text transform="translate(258.3,198) rotate(-90)" text-anchor="end" font-size="5.2" fill="#000">PB3/MOSI/OC2A</text><text transform="translate(254.8,189) rotate(-90)" font-size="4.2" fill="#707070">11</text><rect x="263" y="181" width="1" height="15" fill="#8e0a0e"/><text transform="translate(265.3,198) rotate(-90)" text-anchor="end" font-size="5.2" fill="#000">PB2/SS/OC1B</text><text transform="translate(261.8,189) rotate(-90)" font-size="4.2" fill="#707070">10</text><rect x="269" y="181" width="1" height="15" fill="#8e0a0e"/><text transform="translate(271.3,198) rotate(-90)" text-anchor="end" font-size="5.2" fill="#000">PB1/OC1A</text><text x="268" y="189.2" font-size="4" font-weight="bold" fill="#333" text-anchor="end">9</text><rect x="276" y="181" width="1" height="15" fill="#8e0a0e"/><text transform="translate(278.3,198) rotate(-90)" text-anchor="end" font-size="5.2" fill="#000">PB0/ICP1/CLKO</text><text x="275" y="189.2" font-size="4" font-weight="bold" fill="#333" text-anchor="end">8</text><rect x="290" y="181" width="1" height="15" fill="#8e0a0e"/><text transform="translate(292.3,198) rotate(-90)" text-anchor="end" font-size="5.2" fill="#000">PD7/AIN1</text><text x="289" y="189.2" font-size="4" font-weight="bold" fill="#333" text-anchor="end">7</text><rect x="297" y="181" width="1" height="15" fill="#8e0a0e"/><text transform="translate(299.3,198) rotate(-90)" text-anchor="end" font-size="5.2" fill="#000">PD6/AIN0</text><text x="296" y="189.2" font-size="4" font-weight="bold" fill="#333" text-anchor="end">6</text><rect x="304" y="181" width="1" height="15" fill="#8e0a0e"/><text transform="translate(306.3,198) rotate(-90)" text-anchor="end" font-size="5.2" fill="#000">PD5/T1</text><text x="303" y="189.2" font-size="4" font-weight="bold" fill="#333" text-anchor="end">5</text><rect x="311" y="181" width="1" height="15" fill="#8e0a0e"/><text transform="translate(313.3,198) rotate(-90)" text-anchor="end" font-size="5.2" fill="#000">PD4/T0/XCK</text><text x="310" y="189.2" font-size="4" font-weight="bold" fill="#333" text-anchor="end">4</text><rect x="318" y="181" width="1" height="15" fill="#8e0a0e"/><text transform="translate(320.3,198) rotate(-90)" text-anchor="end" font-size="5.2" fill="#000">PD3/INT1</text><text x="317" y="189.2" font-size="4" font-weight="bold" fill="#333" text-anchor="end">3</text><rect x="325" y="181" width="1" height="15" fill="#8e0a0e"/><text transform="translate(327.3,198) rotate(-90)" text-anchor="end" font-size="5.2" fill="#000">PD2/INT0</text><text x="324" y="189.2" font-size="4" font-weight="bold" fill="#333" text-anchor="end">2</text><rect x="332" y="181" width="1" height="15" fill="#8e0a0e"/><text transform="translate(334.3,198) rotate(-90)" text-anchor="end" font-size="5.2" fill="#000">PD1/TXD</text><text x="331" y="189.2" font-size="4" font-weight="bold" fill="#333" text-anchor="end">1</text><rect x="338" y="181" width="1" height="15" fill="#8e0a0e"/><text transform="translate(340.3,198) rotate(-90)" text-anchor="end" font-size="5.2" fill="#000">PD0/RXD</text><text x="337" y="189.2" font-size="4" font-weight="bold" fill="#333" text-anchor="end">0</text><rect x="256" y="243" width="1" height="2" fill="#fff"/><rect x="263" y="240" width="1" height="2" fill="#fff"/><rect x="269" y="228" width="1" height="2" fill="#fff"/><rect x="297" y="226" width="1" height="2" fill="#fff"/><rect x="304" y="229" width="1" height="2" fill="#fff"/><rect x="318" y="226" width="1" height="2" fill="#fff"/><text transform="translate(334.2,233) rotate(-90)" font-size="5" fill="#fff" font-weight="bold" textLength="6.8" lengthAdjust="spacingAndGlyphs">TX</text><text transform="translate(340.2,233) rotate(-90)" font-size="5" fill="#fff" font-weight="bold" textLength="6.8" lengthAdjust="spacingAndGlyphs">RX</text><text x="281.5" y="243.3" font-size="6.6" fill="#fff" font-weight="bold" >DIGITAL (~PWM)</text><path d="M242,243 L245.5,247.5 L336,247.5 L339.5,243" fill="none" stroke="#fff" stroke-width="1.2"/><path d="M302,302.5 L304.5,298.5 L335.5,298.5 L339,302.5" fill="none" stroke="#fff" stroke-width="1.2"/><text x="286" y="311.7" font-size="6.6" fill="#fff" font-weight="bold" >ANALOG IN</text><text x="203" y="304" font-size="4.8" font-weight="bold" fill="#1f8ef5" textLength="79" lengthAdjust="spacingAndGlyphs">microcontrolandos.blogspot.com</text><rect x="252" y="348" width="1" height="14" fill="#8e0a0e"/><text transform="translate(254.3,343) rotate(-90)" font-size="5.2" fill="#000">RESET</text><rect x="301" y="348" width="1" height="14" fill="#8e0a0e"/><text transform="translate(303.3,343) rotate(-90)" font-size="5.2" fill="#000">PC0/ADC0</text><text transform="translate(300,359) rotate(-90)" font-size="3.6" fill="#222">A0</text><rect x="307" y="348" width="1" height="14" fill="#8e0a0e"/><text transform="translate(309.3,343) rotate(-90)" font-size="5.2" fill="#000">PC1/ADC1</text><text transform="translate(306,359) rotate(-90)" font-size="3.6" fill="#222">A1</text><rect x="314" y="348" width="1" height="14" fill="#8e0a0e"/><text transform="translate(316.3,343) rotate(-90)" font-size="5.2" fill="#000">PC2/ADC2</text><text transform="translate(313,359) rotate(-90)" font-size="3.6" fill="#222">A2</text><rect x="321" y="348" width="1" height="14" fill="#8e0a0e"/><text transform="translate(323.3,343) rotate(-90)" font-size="5.2" fill="#000">PC3/ADC3</text><text transform="translate(320,359) rotate(-90)" font-size="3.6" fill="#222">A3</text><rect x="328" y="348" width="1" height="14" fill="#8e0a0e"/><text transform="translate(330.3,343) rotate(-90)" font-size="5.2" fill="#000">PC4/ADC4/SDA</text><text transform="translate(327,359) rotate(-90)" font-size="3.6" fill="#222">A4</text><rect x="335" y="348" width="1" height="14" fill="#8e0a0e"/><text transform="translate(337.3,343) rotate(-90)" font-size="5.2" fill="#000">PC5/ADC5/SCL</text><text transform="translate(334,359) rotate(-90)" font-size="3.6" fill="#222">A5</text><rect x="249" y="327" width="1" height="17" fill="#0a1a20"/>
</svg></body></html>
